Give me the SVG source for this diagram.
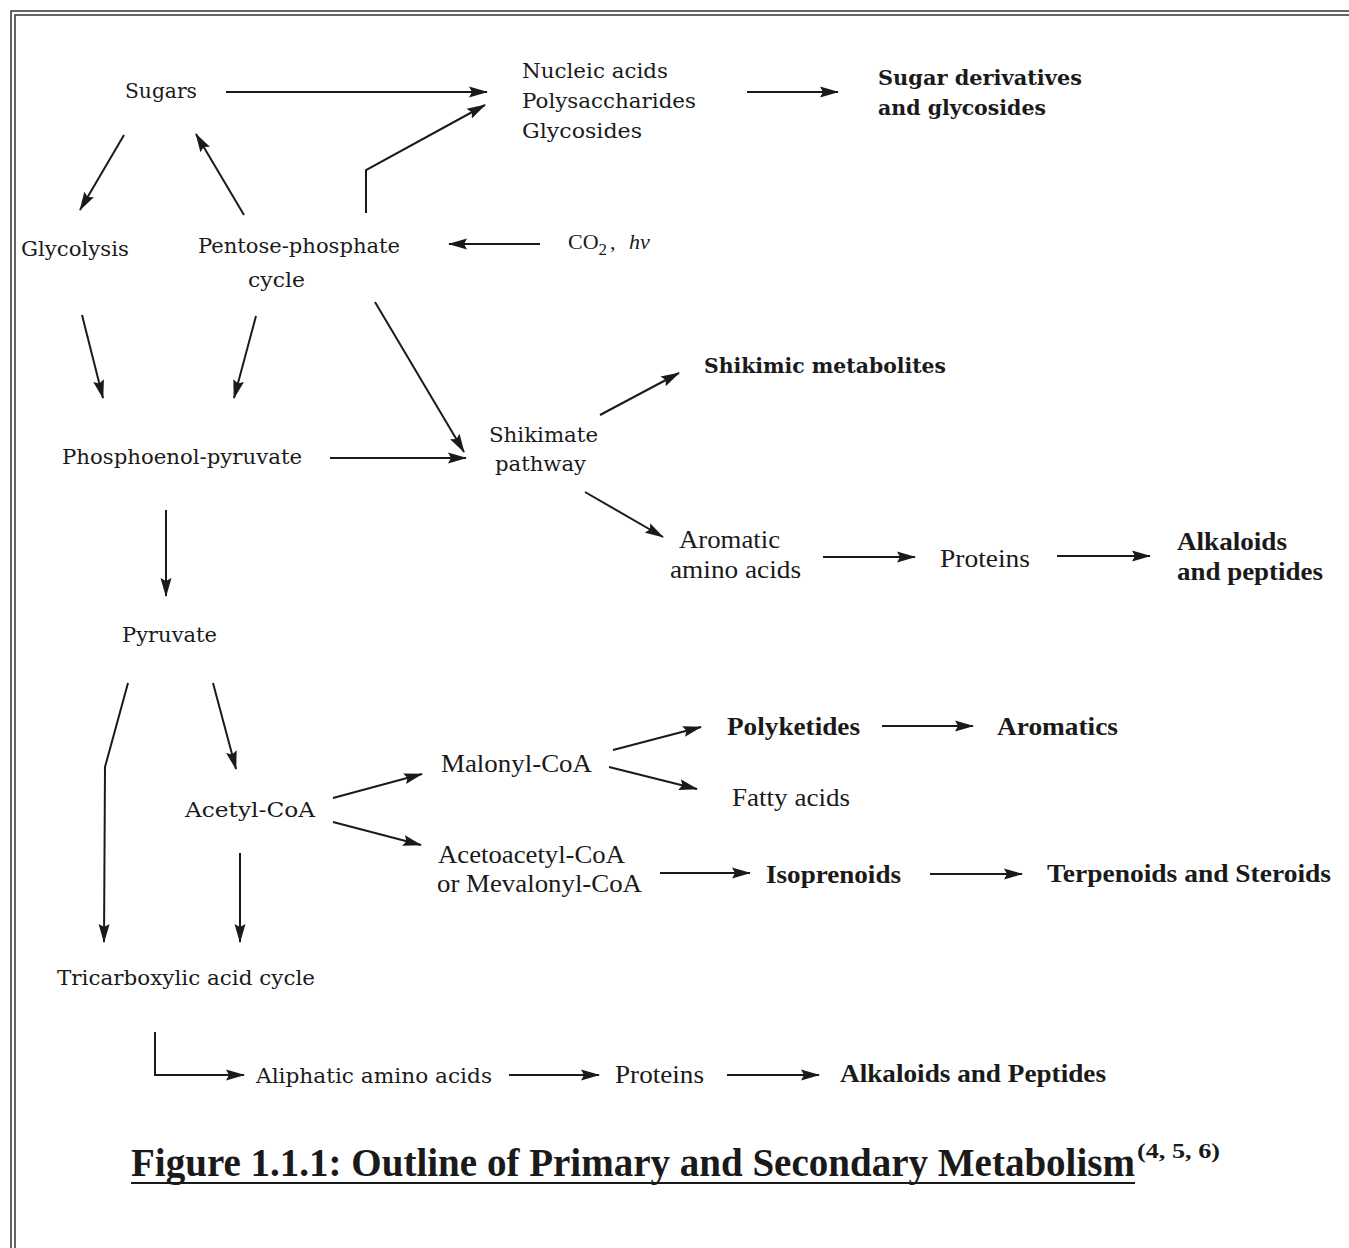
<svg xmlns="http://www.w3.org/2000/svg" width="1349" height="1248" viewBox="0 0 1349 1248">
<style>
.a{font-family:"DejaVu Serif","Liberation Serif",serif;font-size:21px;fill:#1a1a1a}
.ab{font-family:"DejaVu Serif","Liberation Serif",serif;font-size:21px;font-weight:bold;fill:#1a1a1a}
.t{font-family:"Liberation Serif","Times New Roman",serif;font-size:26px;fill:#1a1a1a}
.tb{font-family:"Liberation Serif","Times New Roman",serif;font-size:26px;font-weight:bold;fill:#1a1a1a}
.c line,.c polyline{stroke:#1a1a1a;stroke-width:2;fill:none;marker-end:url(#ah)}
.frame{fill:none;stroke:#333;stroke-width:1.5}
</style>
<defs>
<marker id="ah" markerUnits="userSpaceOnUse" markerWidth="20" markerHeight="12" refX="18" refY="6" orient="auto" viewBox="0 0 20 12">
<path d="M0,0.5 L19,6 L0,11.5 L3,6 z" fill="#1a1a1a"/>
</marker>
</defs>
<rect width="1349" height="1248" fill="#fff"/>
<rect class="frame" x="11" y="11" width="1360" height="1260"/>
<rect class="frame" x="15" y="15" width="1360" height="1260"/>

<g id="n-sugars"><text class="a" x="125" y="98" textLength="72" lengthAdjust="spacingAndGlyphs">Sugars</text></g>
<g id="n-nucleic">
<text class="a" x="522" y="78" textLength="146" lengthAdjust="spacingAndGlyphs">Nucleic acids</text>
<text class="a" x="522" y="108" textLength="174" lengthAdjust="spacingAndGlyphs">Polysaccharides</text>
<text class="a" x="522" y="138" textLength="120" lengthAdjust="spacingAndGlyphs">Glycosides</text>
</g>
<g id="n-sugarderiv">
<text class="ab" x="878" y="85" textLength="204" lengthAdjust="spacingAndGlyphs">Sugar derivatives</text>
<text class="ab" x="878" y="115" textLength="168" lengthAdjust="spacingAndGlyphs">and glycosides</text>
</g>
<g id="n-glycolysis"><text class="a" x="21" y="256" textLength="108" lengthAdjust="spacingAndGlyphs">Glycolysis</text></g>
<g id="n-pentose">
<text class="a" x="198" y="253" textLength="202" lengthAdjust="spacingAndGlyphs">Pentose-phosphate</text>
<text class="a" x="248" y="287" textLength="57" lengthAdjust="spacingAndGlyphs">cycle</text>
</g>
<g id="n-co2"><text class="t" x="568" y="249" style="font-size:22px">CO<tspan dy="6" style="font-size:17px">2</tspan><tspan dy="-6" x="610">,</tspan><tspan font-style="italic" x="629">hv</tspan></text></g>
<g id="n-shikmet"><text class="ab" x="704" y="373" textLength="242" lengthAdjust="spacingAndGlyphs">Shikimic metabolites</text></g>
<g id="n-shikimate">
<text class="a" x="489" y="442" textLength="109" lengthAdjust="spacingAndGlyphs">Shikimate</text>
<text class="a" x="495" y="471" textLength="91" lengthAdjust="spacingAndGlyphs">pathway</text>
</g>
<g id="n-pep"><text class="a" x="62" y="464" textLength="240" lengthAdjust="spacingAndGlyphs">Phosphoenol-pyruvate</text></g>
<g id="n-aromatic">
<text class="t" x="679" y="548" textLength="101" lengthAdjust="spacingAndGlyphs">Aromatic</text>
<text class="t" x="670" y="578" textLength="131" lengthAdjust="spacingAndGlyphs">amino acids</text>
</g>
<g id="n-proteins1"><text class="t" x="940" y="567" textLength="90" lengthAdjust="spacingAndGlyphs">Proteins</text></g>
<g id="n-alkaloids1">
<text class="tb" x="1177" y="550" textLength="110" lengthAdjust="spacingAndGlyphs">Alkaloids</text>
<text class="tb" x="1177" y="580" textLength="146" lengthAdjust="spacingAndGlyphs">and peptides</text>
</g>
<g id="n-pyruvate"><text class="a" x="122" y="642" textLength="95" lengthAdjust="spacingAndGlyphs">Pyruvate</text></g>
<g id="n-polyketides"><text class="tb" x="727" y="735" textLength="133" lengthAdjust="spacingAndGlyphs">Polyketides</text></g>
<g id="n-aromatics"><text class="tb" x="997" y="735" textLength="121" lengthAdjust="spacingAndGlyphs">Aromatics</text></g>
<g id="n-malonyl"><text class="t" x="441" y="772" textLength="151" lengthAdjust="spacingAndGlyphs">Malonyl-CoA</text></g>
<g id="n-fatty"><text class="t" x="732" y="806" textLength="118" lengthAdjust="spacingAndGlyphs">Fatty acids</text></g>
<g id="n-acetyl"><text class="a" x="185" y="817" textLength="130" lengthAdjust="spacingAndGlyphs">Acetyl-CoA</text></g>
<g id="n-acetoacetyl">
<text class="t" x="438" y="863" textLength="187" lengthAdjust="spacingAndGlyphs">Acetoacetyl-CoA</text>
<text class="t" x="437" y="892" textLength="205" lengthAdjust="spacingAndGlyphs">or Mevalonyl-CoA</text>
</g>
<g id="n-isoprenoids"><text class="tb" x="766" y="883" textLength="135" lengthAdjust="spacingAndGlyphs">Isoprenoids</text></g>
<g id="n-terpenoids"><text class="tb" x="1047" y="882" textLength="284" lengthAdjust="spacingAndGlyphs">Terpenoids and Steroids</text></g>
<g id="n-tca"><text class="a" x="57" y="985" textLength="258" lengthAdjust="spacingAndGlyphs">Tricarboxylic acid cycle</text></g>
<g id="n-aliphatic"><text class="a" x="256" y="1083" textLength="236" lengthAdjust="spacingAndGlyphs">Aliphatic amino acids</text></g>
<g id="n-proteins2"><text class="t" x="615" y="1083" textLength="89" lengthAdjust="spacingAndGlyphs">Proteins</text></g>
<g id="n-alkaloids2"><text class="tb" x="840" y="1082" textLength="266" lengthAdjust="spacingAndGlyphs">Alkaloids and Peptides</text></g>

<g id="title">
<text class="tb" x="131" y="1176" style="font-size:39px" textLength="1004" lengthAdjust="spacingAndGlyphs">Figure 1.1.1: Outline of Primary and Secondary Metabolism</text>
<line x1="131" y1="1183" x2="1135" y2="1183" stroke="#1a1a1a" stroke-width="2"/>
<text class="tb" x="1137" y="1158" style="font-size:21px" textLength="83" lengthAdjust="spacingAndGlyphs">(4, 5, 6)</text>
</g>

<g id="connectors" class="c">
<line x1="226" y1="92" x2="487" y2="92"/>
<polyline points="366,213 366,170 485,105"/>
<line x1="747" y1="92" x2="838" y2="92"/>
<line x1="124" y1="135" x2="80" y2="210"/>
<line x1="244" y1="215" x2="196" y2="134"/>
<line x1="540" y1="244" x2="449" y2="244"/>
<line x1="82" y1="315" x2="103" y2="398"/>
<line x1="256" y1="316" x2="234" y2="398"/>
<line x1="375" y1="302" x2="464" y2="452"/>
<line x1="330" y1="458" x2="466" y2="458"/>
<line x1="600" y1="415" x2="679" y2="373"/>
<line x1="585" y1="492" x2="663" y2="537"/>
<line x1="823" y1="557" x2="915" y2="557"/>
<line x1="1057" y1="556" x2="1150" y2="556"/>
<line x1="166" y1="510" x2="166" y2="596"/>
<polyline points="128,683 105,767 104,942"/>
<line x1="213" y1="683" x2="236" y2="769"/>
<line x1="333" y1="798" x2="422" y2="774"/>
<line x1="333" y1="822" x2="421" y2="845"/>
<line x1="240" y1="853" x2="240" y2="942"/>
<line x1="613" y1="750" x2="701" y2="727"/>
<line x1="609" y1="767" x2="697" y2="789"/>
<line x1="882" y1="726" x2="973" y2="726"/>
<line x1="660" y1="873" x2="750" y2="873"/>
<line x1="930" y1="874" x2="1022" y2="874"/>
<polyline points="155,1032 155,1075 244,1075"/>
<line x1="509" y1="1075" x2="599" y2="1075"/>
<line x1="727" y1="1075" x2="819" y2="1075"/>
</g>
</svg>
